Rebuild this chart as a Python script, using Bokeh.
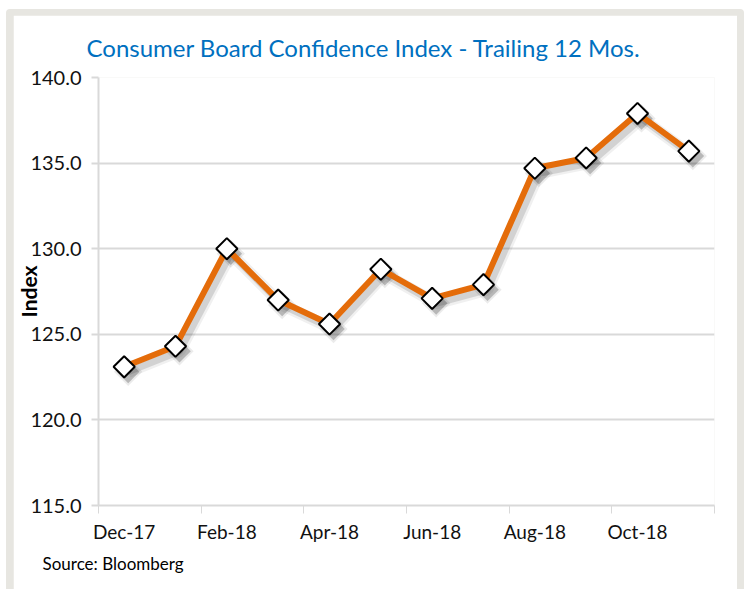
import numpy as np
from bokeh.plotting import figure
from bokeh.layouts import column
from bokeh.models import FixedTicker, Title, Range1d
from bokeh.embed import file_html
from bokeh.resources import INLINE

# ---- data ----
months = ["Dec-17", "Jan-18", "Feb-18", "Mar-18", "Apr-18", "May-18",
          "Jun-18", "Jul-18", "Aug-18", "Sep-18", "Oct-18", "Nov-18"]
index_values = [123.1, 124.3, 130.0, 127.0, 125.6, 128.8,
                127.1, 127.9, 134.7, 135.3, 137.9, 135.7]
y_ticks = [115, 120, 125, 130, 135, 140]
x_tick_labels = ["Dec-17", "Feb-18", "Apr-18", "Jun-18", "Aug-18", "Oct-18"]

FONT = "Lato"
ORANGE = "#E46C0A"
GRID = "#D9D9D9"

W, H = 724, 574
FL, FR, FT, FB = 84, 23, 61, 84
frame_w = W - FL - FR
frame_h = H - FT - FB

n = len(months)
xs = np.arange(n) + 0.5

p = figure(width=W, height=H, output_backend="svg", toolbar_location=None,
           x_range=Range1d(0, n), y_range=Range1d(y_ticks[0], y_ticks[-1]),
           min_border_left=FL, min_border_right=FR, min_border_top=FT,
           min_border_bottom=FB)
p.background_fill_color = "white"
p.border_fill_color = "white"
p.outline_line_color = None

# title
p.title.text = "Consumer Board Confidence Index - Trailing 12 Mos."
p.title.text_font = FONT
p.title.text_font_style = "normal"
p.title.text_font_size = "24px"
p.title.text_color = "#0070C0"
p.title.align = "left"
p.title.offset = -12
p.title.standoff = 31

# source note
src = Title(text="Source: Bloomberg", align="left", text_font=FONT,
            text_font_size="17px", text_font_style="normal",
            text_color="#000000", offset=-56)
p.add_layout(src, "below")

# axes
xa = p.xaxis[0]
xa.ticker = FixedTicker(ticks=[xs[months.index(m)] for m in x_tick_labels],
                        minor_ticks=list(range(0, n + 1, 2)))
xa.major_label_overrides = {float(xs[months.index(m)]): m for m in x_tick_labels}
xa.major_tick_line_color = None
xa.minor_tick_line_color = GRID
xa.minor_tick_out = 8
xa.minor_tick_in = 0
xa.axis_line_color = GRID
xa.axis_line_width = 2
xa.major_label_text_font = FONT
xa.major_label_text_font_size = "19px"
xa.major_label_text_color = "#111111"
xa.major_label_standoff = 6

ya = p.yaxis[0]
ya.ticker = FixedTicker(ticks=y_ticks)
ya.major_label_overrides = {t: f"{t:.1f}" for t in y_ticks}
ya.major_tick_line_color = GRID
ya.major_tick_line_width = 2
ya.major_tick_out = 7
ya.major_tick_in = 0
ya.minor_tick_line_color = None
ya.axis_line_color = GRID
ya.axis_line_width = 2
ya.major_label_text_font = FONT
ya.major_label_text_font_size = "20px"
ya.major_label_text_color = "#111111"
ya.major_label_standoff = 10
ya.axis_label = "Index"
ya.axis_label_text_font = FONT
ya.axis_label_text_font_style = "bold"
ya.axis_label_text_font_size = "21px"
ya.axis_label_text_color = "#000000"
ya.axis_label_standoff = -14

p.xgrid.grid_line_color = None
p.ygrid.ticker = FixedTicker(ticks=y_ticks)
p.ygrid.grid_line_color = GRID
p.ygrid.grid_line_width = 2

# shadow (offset a few pixels right/down)
dx = 4 * n / frame_w
dy = 5 * (y_ticks[-1] - y_ticks[0]) / frame_h
sx = xs + dx
sy = np.array(index_values) - dy
p.line(sx, sy, line_color="#000000", line_width=12, line_alpha=0.06)
p.line(sx, sy, line_color="#000000", line_width=7, line_alpha=0.12)
p.scatter(sx, sy, marker="square", size=20, angle=np.pi / 4,
          fill_color="#000000", fill_alpha=0.08, line_color=None)
p.scatter(sx, sy, marker="square", size=16, angle=np.pi / 4,
          fill_color="#000000", fill_alpha=0.22, line_color=None)

# main line + markers
p.line(xs, index_values, line_color=ORANGE, line_width=6)
p.scatter(xs, index_values, marker="square", size=15, angle=np.pi / 4,
          fill_color="white", line_color="black", line_width=2)

layout = column(p, styles={"background-color": "#E7E6E1",
                           "padding": "6px 7px 0px 7px",
                           "border-radius": "4px 4px 0 0"},
                margin=(9, 4, 0, 6))

open("out.html", "w").write(file_html(layout, INLINE))
